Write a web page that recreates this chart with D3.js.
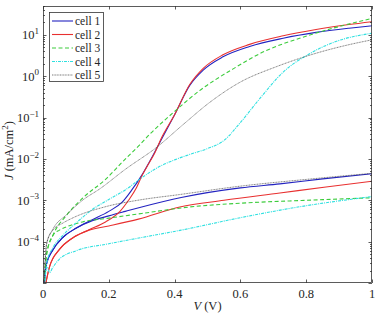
<!DOCTYPE html>
<html>
<head>
<meta charset="utf-8">
<script src="https://cdn.jsdelivr.net/npm/d3@7"></script>
<style>
  body { margin: 0; background: #fff; }
</style>
</head>
<body>
<svg width="378" height="314"></svg>
<script>
// J (mA/cm^2) vs V (V), two branches per cell
var cell1V  = [0.003,0.01,0.03,0.06,0.1,0.15,0.2,0.24,0.27,0.3,0.33,0.355,0.4,0.446,0.487,0.547,0.628,0.73,0.83,0.93,1];
var cell1J  = [7.9e-6,2.8e-5,6.3e-5,1.26e-4,2.1e-4,3.4e-4,5.4e-4,8.9e-4,1.78e-3,4.0e-3,1.05e-2,2.5e-2,0.117,0.60,1.41,2.95,5.25,8.3,11.5,14.5,16.6];
var cell1bV = [0.003,0.01,0.03,0.06,0.1,0.15,0.2,0.25,0.3,0.42,0.6,0.72,0.85,1];
var cell1bJ = [7.9e-6,2.8e-5,6.3e-5,1.26e-4,2.1e-4,3.2e-4,4.2e-4,5.4e-4,6.9e-4,1.17e-3,2.0e-3,2.5e-3,3.3e-3,4.4e-3];

var cell2V  = [0.006,0.02,0.05,0.09,0.14,0.19,0.234,0.26,0.284,0.3,0.315,0.34,0.36,0.4,0.446,0.487,0.547,0.628,0.73,0.83,0.93,1];
var cell2J  = [7.9e-6,2.5e-5,6.5e-5,1.23e-4,1.95e-4,3.0e-4,5.4e-4,1.0e-3,2.0e-3,3.8e-3,6.3e-3,1.41e-2,3.2e-2,0.117,0.63,1.55,3.3,5.9,9.5,13.5,17.8,20.9];
var cell2bV = [0.006,0.02,0.05,0.09,0.14,0.2,0.29,0.416,0.55,0.72,0.86,1];
var cell2bJ = [7.9e-6,2.5e-5,6.5e-5,1.23e-4,1.9e-4,2.4e-4,3.5e-4,6.9e-4,1.0e-3,1.5e-3,2.1e-3,2.9e-3];

var cell3V  = [0.003,0.011,0.03,0.07,0.12,0.19,0.244,0.294,0.325,0.4,0.476,0.578,0.679,0.78,0.881,1];
var cell3J  = [7.9e-6,5.0e-5,1.41e-4,4.2e-4,1.12e-3,3.2e-3,8.9e-3,2.2e-2,4.0e-2,0.141,0.45,1.51,4.2,8.3,14.5,25];
var cell3bV = [0.003,0.011,0.03,0.05,0.072,0.12,0.2,0.3,0.446,0.6,0.8,1];
var cell3bJ = [7.9e-6,5.0e-5,1.41e-4,1.9e-4,2.3e-4,3.0e-4,3.7e-4,4.8e-4,6.9e-4,8.5e-4,1.0e-3,1.15e-3];

var cell4V  = [0.004,0.012,0.03,0.06,0.1,0.15,0.2,0.25,0.3,0.35,0.4,0.45,0.5,0.55,0.6,0.66,0.73,0.81,0.89,1];
var cell4J  = [7.9e-6,3.2e-5,7.1e-5,1.41e-4,2.8e-4,6.0e-4,1.05e-3,1.78e-3,3.5e-3,6.3e-3,9.5e-3,1.32e-2,1.78e-2,2.8e-2,7.6e-2,0.295,1.26,3.5,6.9,11];
var cell4bV = [0.004,0.012,0.02,0.03,0.05,0.1,0.2,0.3,0.42,0.6,0.8,1];
var cell4bJ = [7.9e-6,2.5e-5,1.78e-5,2.4e-5,3.8e-5,6.0e-5,8.9e-5,1.26e-4,1.9e-4,3.8e-4,7.4e-4,1.23e-3];

var cell5V  = [0.002,0.004,0.011,0.03,0.072,0.12,0.173,0.25,0.345,0.426,0.507,0.598,0.709,0.83,0.93,1];
var cell5J  = [5e-6,1.26e-5,8.9e-5,2.0e-4,4.5e-4,1.0e-3,1.9e-3,5.6e-3,1.9e-2,6.8e-2,0.234,0.71,1.7,3.6,5.8,7.6];
var cell5bV = [0.002,0.004,0.011,0.03,0.06,0.092,0.193,0.294,0.416,0.6,0.8,1];
var cell5bJ = [5e-6,1.26e-5,8.9e-5,1.9e-4,2.8e-4,3.8e-4,7.1e-4,1.02e-3,1.38e-3,2.2e-3,3.2e-3,4.5e-3];

var names   = ["cell 1","cell 2","cell 3","cell 4","cell 5"];
var xTicks  = [0,0.2,0.4,0.6,0.8,1];
var yTicks  = [1e-4,1e-3,1e-2,1e-1,1e0,1e1];
var yLabels = ["\u22124","\u22123","\u22122","\u22121","0","1"];

var styles = [
  {color:"#2323c0", dash:null,      w:1.1},
  {color:"#e83030", dash:null,      w:1.1},
  {color:"#3ccc3c", dash:"4,2.5",   w:1.1},
  {color:"#30e0e0", dash:"3,1,1,1", w:1.1},
  {color:"#444444", dash:"1,0.6",   w:0.7}
];

var series = [
  [cell1V,cell1J,0],[cell1bV,cell1bJ,0],
  [cell2V,cell2J,1],[cell2bV,cell2bJ,1],
  [cell3V,cell3J,2],[cell3bV,cell3bJ,2],
  [cell4V,cell4J,3],[cell4bV,cell4bJ,3],
  [cell5V,cell5J,4],[cell5bV,cell5bJ,4]
];

var FONT = "Liberation Serif";
var INK = "#262626";

var svg = d3.select("svg");
var L = 43, R = 372, T = 6, B = 283;
var x = d3.scaleLinear().domain([0,1]).range([L,R]);
var y = d3.scaleLog().domain([1e-5,50]).range([B,T]);

svg.append("clipPath").attr("id","clip")
  .append("rect").attr("x",L).attr("y",T).attr("width",R-L).attr("height",B-T);

var line = d3.line()
  .x(function(d){ return x(d[0]); })
  .y(function(d){ return y(d[1]); })
  .curve(d3.curveMonotoneX);

var g = svg.append("g").attr("clip-path","url(#clip)");
series.forEach(function(s){
  var pts = s[0].map(function(v,i){ return [v, s[1][i]]; });
  var st = styles[s[2]];
  g.append("path").datum(pts)
    .attr("d", line)
    .attr("fill","none")
    .attr("stroke", st.color)
    .attr("stroke-width", st.w)
    .attr("stroke-dasharray", st.dash);
});

// frame and ticks
var axisColor = "#333";
svg.append("rect").attr("x",L+0.5).attr("y",T+0.5).attr("width",R-L-1).attr("height",B-T-1)
  .attr("fill","none").attr("stroke",axisColor).attr("stroke-width",0.8);

var ticks = svg.append("g").attr("stroke",axisColor).attr("stroke-width",0.8);
xTicks.forEach(function(t){
  var px = Math.round(x(t)) + 0.5;
  ticks.append("line").attr("x1",px).attr("x2",px).attr("y1",B).attr("y2",B-3.5);
  ticks.append("line").attr("x1",px).attr("x2",px).attr("y1",T).attr("y2",T+3.5);
});
// major + minor log ticks on both sides
for (var e = -5; e <= 1; e++) {
  for (var m = 1; m <= 9; m++) {
    var v = m * Math.pow(10, e);
    if (v > 50) break;
    var py = Math.round(y(v)) + 0.5;
    var len = m === 1 ? 3.5 : 2;
    ticks.append("line").attr("x1",L).attr("x2",L+len).attr("y1",py).attr("y2",py);
    ticks.append("line").attr("x1",R).attr("x2",R-len).attr("y1",py).attr("y2",py);
  }
}

// tick labels
svg.selectAll(".xl").data(xTicks).enter().append("text")
  .attr("x", function(d){ return x(d); })
  .attr("y", 298)
  .attr("text-anchor","middle")
  .attr("font-family",FONT)
  .attr("font-size","12.5px")
  .attr("fill",INK)
  .text(function(d){ return d3.format("")(d); });

yTicks.forEach(function(t,i){
  var tx = svg.append("text")
    .attr("x", 39).attr("y", y(t) + 4.5)
    .attr("text-anchor","end")
    .attr("font-family",FONT)
    .attr("font-size","12.5px")
    .attr("fill",INK);
  tx.append("tspan").text("10");
  tx.append("tspan").attr("dy",-5.5).attr("font-size","9px").text(yLabels[i]);
});

// axis labels
var xl = svg.append("text").attr("x", (L+R)/2).attr("y", 310)
  .attr("text-anchor","middle").attr("font-family",FONT).attr("font-size","12.5px").attr("fill",INK);
xl.append("tspan").attr("font-style","italic").text("V");
xl.append("tspan").text(" (V)");

var yl = svg.append("text")
  .attr("transform","translate(13," + ((T+B)/2 + 6) + ") rotate(-90)")
  .attr("text-anchor","middle").attr("font-family",FONT).attr("font-size","12.5px").attr("fill",INK);
yl.append("tspan").attr("font-style","italic").text("J");
yl.append("tspan").text(" (mA/cm");
yl.append("tspan").attr("dy",-5).attr("font-size","9px").text("2");
yl.append("tspan").attr("dy",5).text(")");

// legend
var lg = svg.append("g");
lg.append("rect").attr("x",49.5).attr("y",12.5).attr("width",54).attr("height",69)
  .attr("fill","#fff").attr("stroke",axisColor).attr("stroke-width",0.8);
names.forEach(function(n,i){
  var ly = 21 + i*13.5;
  var st = styles[i];
  lg.append("line").attr("x1",52).attr("x2",73).attr("y1",ly).attr("y2",ly)
    .attr("stroke",st.color).attr("stroke-width",st.w).attr("stroke-dasharray",st.dash);
  lg.append("text").attr("x",75).attr("y",ly+4)
    .attr("font-family",FONT).attr("font-size","11.5px").attr("fill",INK).text(n);
});
</script>
</body>
</html>
